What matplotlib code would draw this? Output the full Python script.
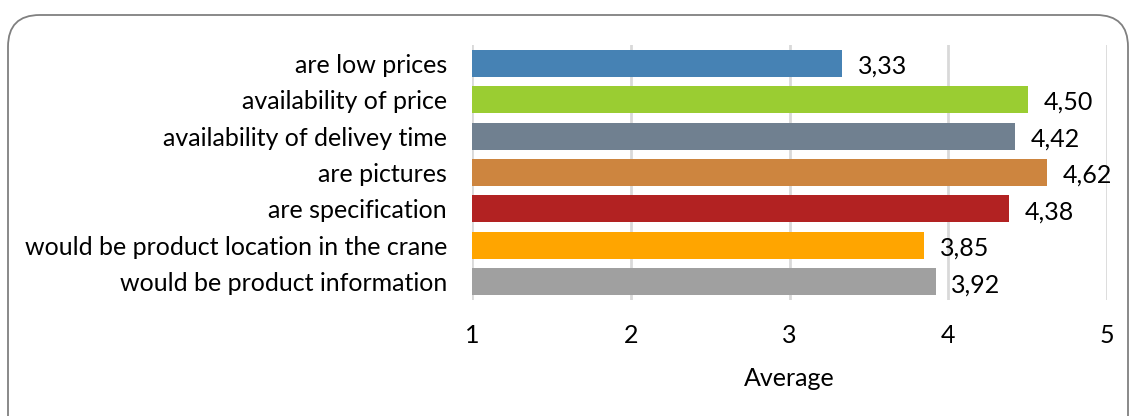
import matplotlib.pyplot as plt
from matplotlib.patches import FancyBboxPatch

labels = ["are low prices", "availability of price", "availability of delivey time",
          "are pictures", "are specification",
          "would be product location in the crane", "would be product information"]
values = [3.33, 4.50, 4.42, 4.62, 4.38, 3.85, 3.92]
colors = ["#4682B4", "#9ACD32", "#708090", "#CD853F", "#B22222", "#FFA500", "#A0A0A0"]
xticks = [1, 2, 3, 4, 5]

plt.rcParams['font.family'] = ['Lato', 'DejaVu Sans']
fs = 18

fig = plt.figure(figsize=(11.34, 4.16), dpi=100)
ax = fig.add_axes([472 / 1134, 1 - 300 / 416, (1107 - 472) / 1134, 255 / 416])

# rounded frame around the whole chart
frame = FancyBboxPatch((8 / 1134, -40 / 416), 1120 / 1134, 441 / 416,
                       boxstyle="round,pad=0,rounding_size=0.028",
                       transform=fig.transFigure, facecolor="none",
                       edgecolor="#808080", linewidth=1.3, mutation_aspect=1134 / 416)
fig.patches.append(frame)

y = list(range(len(labels)))
ax.barh(y, [v - 1 for v in values], left=1, height=0.74, color=colors, zorder=3)
for yi, v in zip(y, values):
    ax.text(v + 0.1, yi + 0.08, f"{v:.2f}".replace(".", ","), va="center", ha="left",
            fontsize=fs, color="#000000", zorder=4)

ax.set_xlim(1, 5)
ax.set_ylim(len(labels) - 0.5, -0.5)
ax.set_xticks(xticks)
ax.set_xticklabels([str(t) for t in xticks], fontsize=fs)
ax.set_yticks(y)
ax.set_yticklabels(labels, fontsize=fs)
ax.tick_params(axis="x", length=0, pad=17)
ax.tick_params(axis="y", length=0, pad=18)
ax.grid(axis="x", color="#D9D9D9", linewidth=2, zorder=0)
for s in ax.spines.values():
    s.set_visible(False)
ax.set_xlabel("Average", fontsize=fs, labelpad=15)

fig.savefig("out.png", dpi=100)
